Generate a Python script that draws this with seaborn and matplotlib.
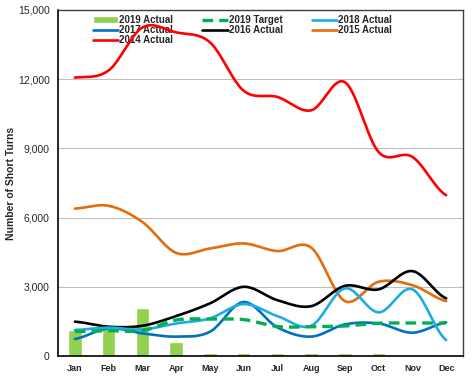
import numpy as np
import pandas as pd
import seaborn as sns
from matplotlib import pyplot as plt

months = ['Jan', 'Feb', 'Mar', 'Apr', 'May', 'Jun', 'Jul', 'Aug', 'Sep', 'Oct', 'Nov', 'Dec']

actual_2019 = [1130, 1200, 2100, 590, 110, 120, 130, 110, 140, 120, 0, 0]
target_2019 = [1060, 1100, 1100, 1560, 1600, 1580, 1280, 1270, 1300, 1420, 1430, 1430]
actual_2018 = [1130, 1230, 1150, 1410, 1630, 2250, 1730, 1310, 2930, 1890, 2890, 690]
actual_2017 = [740, 1200, 980, 840, 1050, 2340, 1240, 840, 1370, 1410, 1010, 1460]
actual_2016 = [1490, 1270, 1310, 1730, 2280, 3000, 2420, 2160, 3040, 2890, 3680, 2500]
actual_2015 = [6390, 6510, 5810, 4470, 4660, 4880, 4550, 4700, 2380, 3220, 3070, 2380]
actual_2014 = [12070, 12380, 14240, 14030, 13600, 11500, 11230, 10650, 11870, 8840, 8630, 6970]

yticks = [0, 3000, 6000, 9000, 12000, 15000]


def smooth(vals, n=20):
    # catmull-rom so the lines bend like the excel "smoothed line" option
    p = np.asarray(vals, dtype=float)
    p = np.concatenate([[p[0]], p, [p[-1]]])
    xs, ys = [], []
    for i in range(1, len(p) - 2):
        t = np.linspace(0, 1, n, endpoint=False)
        p0, p1, p2, p3 = p[i - 1], p[i], p[i + 1], p[i + 2]
        y = 0.5 * (2 * p1 + (-p0 + p2) * t + (2 * p0 - 5 * p1 + 4 * p2 - p3) * t ** 2
                   + (-p0 + 3 * p1 - 3 * p2 + p3) * t ** 3)
        xs.append(i - 1 + t)
        ys.append(y)
    xs.append([len(vals) - 1])
    ys.append([vals[-1]])
    return np.concatenate(xs), np.concatenate(ys)


sns.set_style('white')
plt.rcParams['font.family'] = ['Liberation Sans', 'DejaVu Sans']

fig = plt.figure(figsize=(4.72, 3.84), dpi=100)
ax = fig.add_axes([0.1229, 0.0729, 0.8581, 0.9011])

df = pd.DataFrame({'month': months, 'value': actual_2019})
sns.barplot(data=df, x='month', y='value', order=months, color='#92D050',
            width=0.4, saturation=1, ax=ax, label='2019 Actual', zorder=2)

series = [
    ('2014 Actual', actual_2014, '#FF0000', '-'),
    ('2015 Actual', actual_2015, '#E46C0A', '-'),
    ('2016 Actual', actual_2016, '#000000', '-'),
    ('2017 Actual', actual_2017, '#0070C0', '-'),
    ('2018 Actual', actual_2018, '#1CADE4', '-'),
    ('2019 Target', target_2019, '#00B050', '--'),
]
for name, vals, col, ls in series:
    sx, sy = smooth(vals)
    if ls == '--':
        sns.lineplot(x=sx, y=sy, color=col, lw=2.4, ax=ax, label=name, zorder=4)
        ax.lines[-1].set_dashes([3.2, 1.8])
    else:
        sns.lineplot(x=sx, y=sy, color=col, lw=1.9, ax=ax, label=name, zorder=4)

ax.set_xlim(-0.5, 11.5)
ax.set_ylim(0, 15000)
ax.set_yticks(yticks)
ax.set_yticklabels([f'{v:,}' for v in yticks], fontsize=7.5)
ax.set_xticks(range(12))
ax.set_xticklabels(months, fontsize=6.5, fontweight='bold')
ax.tick_params(axis='both', length=0, pad=6)
ax.set_xlabel('')
ax.set_ylabel('Number of Short Turns', fontsize=7.5, fontweight='bold', labelpad=1)
ax.yaxis.grid(True, color='#BFBFBF', lw=0.8, zorder=0)
ax.set_axisbelow(True)

for s in ['left', 'bottom']:
    ax.spines[s].set_color('black')
    ax.spines[s].set_linewidth(1.2)
for s in ['top', 'right']:
    ax.spines[s].set_color('#404040')
    ax.spines[s].set_linewidth(1.0)

h, l = ax.get_legend_handles_labels()
lookup = dict(zip(l, h))
order = ['2019 Actual', '2017 Actual', '2014 Actual', '2019 Target', '2016 Actual',
         '2018 Actual', '2015 Actual']
leg = ax.legend([lookup[k] for k in order], order, ncol=3, loc='upper left',
                bbox_to_anchor=(0.086, 0.985), frameon=False, borderpad=0, borderaxespad=0,
                handlelength=2.6, handletextpad=0.1, columnspacing=3.0, labelspacing=0.0,
                prop={'size': 7, 'weight': 'bold'})
leg.set_zorder(3)

fig.savefig('out.png', dpi=100)
